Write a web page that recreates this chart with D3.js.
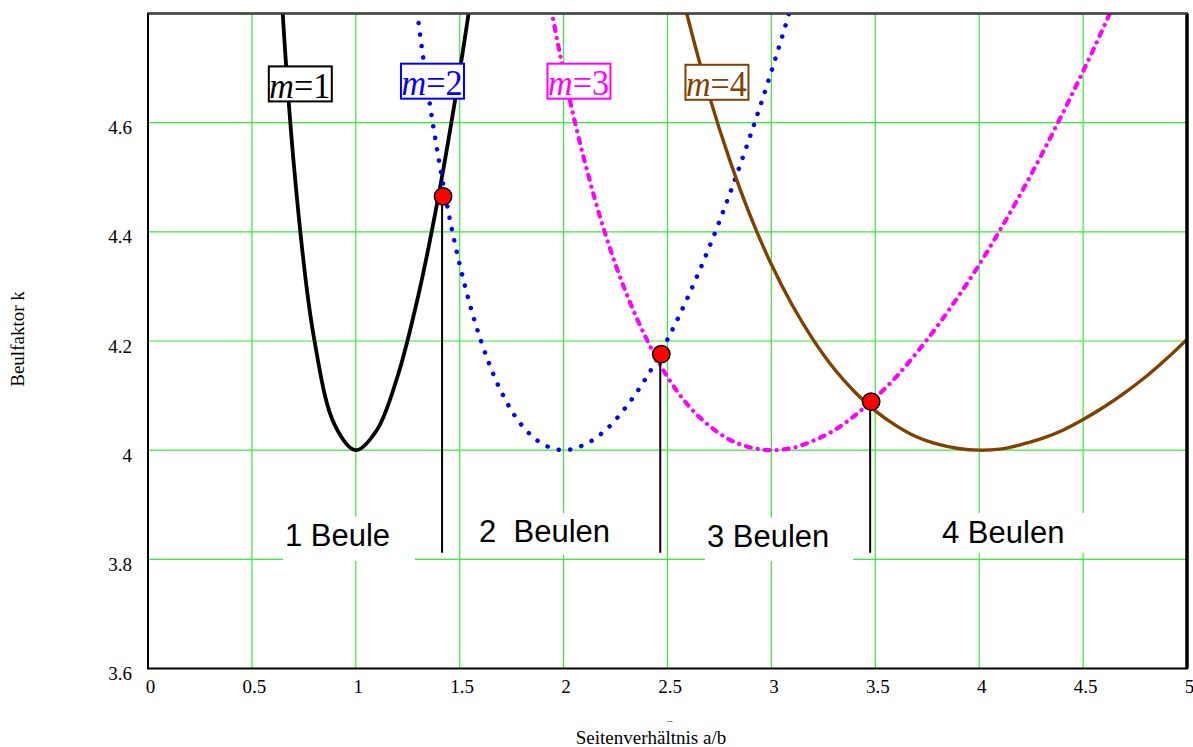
<!DOCTYPE html>
<html>
<head>
<meta charset="utf-8">
<script src="https://cdn.jsdelivr.net/npm/d3@7"></script>
<style>
  body { margin: 0; background: #fff; }
  svg { display: block; }
</style>
</head>
<body>
<div id="chart"></div>
<script>
// buckling factor k per aspect ratio a/b
const ratio1 = [0.5, 0.6, 0.7, 0.8, 0.9, 1.0, 1.1, 1.2, 1.3, 1.4, 1.5, 1.6, 1.7];
const k1 = [6.25, 5.138, 4.531, 4.203, 4.045, 4, 4.036, 4.134, 4.282, 4.470, 4.694, 4.951, 5.236];

const ratio2 = [1.1, 1.2, 1.3, 1.4, 1.5, 1.6, 1.7, 1.8, 1.9, 2.0, 2.1, 2.2, 2.3, 2.4, 2.5, 2.6, 2.7, 2.8, 2.9, 3.0, 3.1, 3.2, 3.3];
const k2 = [5.608, 5.138, 4.789, 4.531, 4.340, 4.203, 4.107, 4.045, 4.011, 4, 4.010, 4.036, 4.079, 4.134, 4.203, 4.282, 4.371, 4.470, 4.578, 4.694, 4.819, 4.951, 5.090];

const ratio3 = [1.7, 1.8, 1.9, 2.0, 2.1, 2.2, 2.3, 2.4, 2.5, 2.6, 2.7, 2.8, 2.9, 3.0, 3.1, 3.2, 3.3, 3.4, 3.5, 3.6, 3.7, 3.8, 3.9, 4.0, 4.1, 4.2, 4.3, 4.4, 4.5, 4.6, 4.7, 4.8];
const k3 = [5.435, 5.138, 4.894, 4.694, 4.531, 4.397, 4.289, 4.203, 4.134, 4.082, 4.045, 4.019, 4.005, 4, 4.004, 4.017, 4.036, 4.063, 4.096, 4.134, 4.179, 4.228, 4.282, 4.340, 4.403, 4.470, 4.541, 4.616, 4.694, 4.776, 4.862, 4.951];

const ratio4 = [2.3, 2.4, 2.5, 2.6, 2.7, 2.8, 2.9, 3.0, 3.1, 3.2, 3.3, 3.4, 3.5, 3.6, 3.7, 3.8, 3.9, 4.0, 4.1, 4.2, 4.3, 4.4, 4.5, 4.6, 4.7, 4.8, 4.9, 5.0];
const k4 = [5.355, 5.138, 4.951, 4.789, 4.650, 4.531, 4.428, 4.340, 4.266, 4.203, 4.150, 4.107, 4.072, 4.045, 4.024, 4.011, 4.003, 4, 4.002, 4.010, 4.021, 4.036, 4.056, 4.079, 4.105, 4.134, 4.167, 4.203];

// switch points between buckle counts (red dots)
const switchRatio = [1.42, 2.47, 3.48];
const switchK = [4.465, 4.176, 4.089];

const xTicks = [0, 0.5, 1, 1.5, 2, 2.5, 3, 3.5, 4, 4.5, 5];
const yTicks = [3.6, 3.8, 4, 4.2, 4.4, 4.6];
const xGrid = [0.5, 1, 1.5, 2, 2.5, 3, 3.5, 4, 4.5];
const yGrid = [3.8, 4, 4.2, 4.4, 4.6];

const mLabels = ['1', '2', '3', '4'];
const regionLabels = ['1 Beule', '2  Beulen', '3 Beulen', '4 Beulen'];

const W = 1193, H = 747;
const margin = { top: 13.5, right: 6, bottom: 78.5, left: 148 };
const width = W - margin.left - margin.right;
const height = H - margin.top - margin.bottom;

const serif = "'Liberation Serif', 'Times New Roman', serif";
const sans = "'Liberation Sans', Arial, sans-serif";

const svg = d3.select('#chart')
  .append('svg')
  .attr('width', W)
  .attr('height', H);

const g = svg.append('g')
  .attr('transform', `translate(${margin.left},${margin.top})`);

const x = d3.scaleLinear().domain([0, 5]).range([0, width]);
const y = d3.scaleLinear().domain([3.6, 4.8]).range([height, 0]);

g.append('clipPath').attr('id', 'plot')
  .append('rect').attr('width', width).attr('height', height);

// grid
g.selectAll('.vgrid').data(xGrid).enter().append('line')
  .attr('x1', d => x(d)).attr('x2', d => x(d))
  .attr('y1', 0).attr('y2', height)
  .attr('stroke', '#33ee33').attr('stroke-width', 1.2);
g.selectAll('.hgrid').data(yGrid).enter().append('line')
  .attr('x1', 0).attr('x2', width)
  .attr('y1', d => y(d)).attr('y2', d => y(d))
  .attr('stroke', '#33ee33').attr('stroke-width', 1.2);

// white boxes behind the region labels [x0, x1, kTop, kBottom]
const regionBoxes = [
  [0.650, 1.285, 3.878, 3.797],
  [1.550, 2.464, 3.885, 3.808],
  [2.680, 3.393, 3.876, 3.797],
  [3.545, 4.581, 3.885, 3.812]
];
const regionText = [[0.659, 3.8245], [1.593, 3.832], [2.690, 3.823], [3.821, 3.830]];

g.selectAll('.rbox').data(regionBoxes).enter().append('rect')
  .attr('x', d => x(d[0]))
  .attr('y', d => y(d[2]))
  .attr('width', d => x(d[1]) - x(d[0]))
  .attr('height', d => y(d[3]) - y(d[2]))
  .attr('fill', '#fff');

// curves
const curves = [
  { xs: ratio1, ks: k1, color: '#000000', width: 3.8, dash: null },
  { xs: ratio2, ks: k2, color: '#0000ff', width: 4.5, dash: '0.1,11.5' },
  { xs: ratio3, ks: k3, color: '#ff00ff', width: 4.2, dash: '5,7,0.1,7' },
  { xs: ratio4, ks: k4, color: '#804000', width: 3.4, dash: null }
];

const line = d3.line()
  .x(d => x(d[0]))
  .y(d => y(d[1]))
  .curve(d3.curveCatmullRom);

const curveLayer = g.append('g').attr('clip-path', 'url(#plot)');
curves.forEach(c => {
  curveLayer.append('path')
    .datum(c.xs.map((v, i) => [v, c.ks[i]]))
    .attr('fill', 'none')
    .attr('stroke', c.color)
    .attr('stroke-width', c.width)
    .attr('stroke-linecap', 'round')
    .attr('stroke-linejoin', 'round')
    .attr('stroke-dasharray', c.dash)
    .attr('d', line);
});

// drop lines from the switch points
g.selectAll('.drop').data(switchRatio).enter().append('line')
  .attr('x1', d => x(d) - 1).attr('x2', d => x(d) - 1)
  .attr('y1', (d, i) => y(switchK[i]))
  .attr('y2', y(3.812))
  .attr('stroke', '#000').attr('stroke-width', 2);

g.selectAll('.dot').data(switchRatio).enter().append('circle')
  .attr('cx', d => x(d))
  .attr('cy', (d, i) => y(switchK[i]))
  .attr('r', 8.7)
  .attr('fill', '#ff0000')
  .attr('stroke', '#000')
  .attr('stroke-width', 1.5);

// region labels
g.selectAll('.rtext').data(regionLabels).enter().append('text')
  .attr('x', (d, i) => x(regionText[i][0]))
  .attr('y', (d, i) => y(regionText[i][1]))
  .style('white-space', 'pre')
  .attr('font-family', sans)
  .attr('font-size', 31)
  .attr('fill', '#000')
  .text(d => d);

// m = ... labels in framed boxes, centre in data units
const mLabelPos = [[0.733, 4.671], [1.369, 4.676], [2.074, 4.676], [2.738, 4.674]];
mLabels.forEach((lab, i) => {
  const cx = x(mLabelPos[i][0]), cy = y(mLabelPos[i][1]);
  const col = curves[i].color;
  g.append('rect')
    .attr('x', cx - 31.5).attr('y', cy - 17.5)
    .attr('width', 63).attr('height', 35)
    .attr('fill', '#fff')
    .attr('stroke', col).attr('stroke-width', 2);
  const t = g.append('text')
    .attr('x', cx - 31).attr('y', cy + 14)
    .attr('font-family', serif)
    .attr('font-size', 36)
    .attr('fill', col)
    .attr('textLength', 61)
    .attr('lengthAdjust', 'spacingAndGlyphs');
  t.append('tspan').attr('font-style', 'italic').text('m');
  t.append('tspan').text('=' + lab);
});

// frame
g.append('rect')
  .attr('width', width).attr('height', height)
  .attr('fill', 'none')
  .attr('stroke', '#000').attr('stroke-width', 2);
g.append('line')
  .attr('x1', width).attr('x2', width).attr('y1', 0).attr('y2', height)
  .attr('stroke', '#000').attr('stroke-width', 3.5);
g.append('line')
  .attr('x1', 0).attr('x2', width).attr('y1', 0).attr('y2', 0)
  .attr('stroke', '#444').attr('stroke-width', 2);

// axes
const fmt = d => String(d);
const xAxis = g.append('g')
  .attr('transform', `translate(2,${height})`)
  .call(d3.axisBottom(x).tickValues(xTicks).tickFormat(fmt).tickSize(0).tickPadding(11));
const yAxis = g.append('g')
  .call(d3.axisLeft(y).tickValues(yTicks).tickFormat(fmt).tickSize(0).tickPadding(16));
[xAxis, yAxis].forEach(a => {
  a.select('.domain').remove();
  a.selectAll('text')
    .attr('font-family', serif)
    .attr('font-size', 19)
    .attr('fill', '#000');
});
yAxis.selectAll('text').attr('dy', '0.58em');

// axis titles
svg.append('text')
  .attr('transform', 'translate(24,339) rotate(-90)')
  .attr('text-anchor', 'middle')
  .attr('font-family', serif)
  .attr('font-size', 19)
  .text('Beulfaktor k');

svg.append('text')
  .attr('x', 651).attr('y', 744)
  .attr('text-anchor', 'middle')
  .attr('font-family', serif)
  .attr('font-size', 19)
  .text('Seitenverhältnis a/b');

svg.append('text')
  .attr('x', 670).attr('y', 724)
  .attr('text-anchor', 'middle')
  .attr('font-family', serif)
  .attr('font-size', 8)
  .text('--');
</script>
</body>
</html>
